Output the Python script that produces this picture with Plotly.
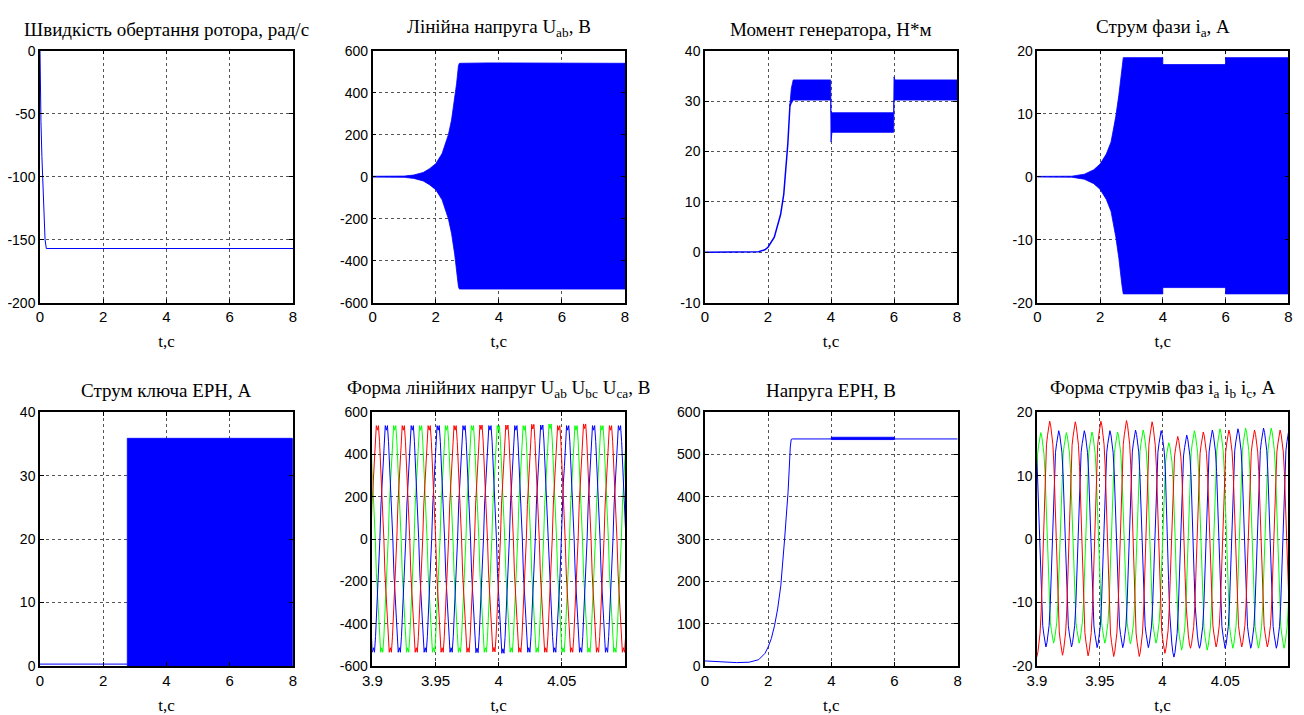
import plotly.graph_objects as go

# the page body adds an 8 px margin, so the figure is drawn 8 px in from the window corner
PAGE_OFF = 8
W, H = 1304 - 2 * PAGE_OFF, 715 - PAGE_OFF

# ---------------- data ----------------
# 1. rotor speed, rad/s
speed_t = [0, 0.01, 0.03, 0.06, 0.09, 0.12, 0.16, 0.20, 8.0]
speed_w = [0, -28, -56, -84, -110, -130, -150, -157, -157]

# 2. line voltage Uab envelope, V
uab_up_t = [0, 1.0, 1.3, 1.6, 1.8, 2.0, 2.2, 2.4, 2.5, 2.6, 2.66, 2.72, 2.75, 3.7, 5.5, 8.0]
uab_up_v = [2, 3, 8, 20, 38, 62, 110, 200, 270, 370, 443, 530, 540, 542, 540, 540]
uab_lo_t = [0, 1.0, 1.3, 1.6, 1.8, 2.0, 2.2, 2.4, 2.5, 2.6, 2.66, 2.72, 2.75, 8.0]
uab_lo_v = [-2, -3, -8, -20, -38, -62, -110, -200, -270, -370, -440, -525, -535, -535]

# 3. generator torque, N*m
tq_t = [0, 1.0, 1.7, 1.9, 2.0, 2.2, 2.4, 2.5, 2.55, 2.63, 2.70]
tq_m = [0, 0, 0.1, 0.5, 1.0, 3.0, 7.5, 11.5, 15.6, 21.6, 29.5]
tq_up_t = [2.70, 2.74, 2.80, 3.99, 4.00, 5.99, 6.00, 6.03, 8.0]
tq_up_m = [29.5, 32.5, 34.2, 34.2, 27.7, 27.7, 34.8, 34.2, 34.2]
tq_lo_t = [2.70, 2.74, 2.80, 3.99, 4.00, 4.03, 5.99, 6.00, 8.0]
tq_lo_m = [29.0, 29.5, 30.2, 30.2, 21.9, 23.8, 23.8, 30.2, 30.2]

# 4. phase current ia envelope, A
ia_up_t = [0, 1.1, 1.5, 1.8, 2.0, 2.2, 2.35, 2.5, 2.6, 2.7, 2.74, 4.0, 4.0, 6.0, 6.0, 8.0]
ia_up_a = [0.05, 0.08, 0.4, 1.1, 2.0, 3.6, 5.5, 9.5, 13.0, 17.5, 18.9, 18.9, 17.8, 17.8, 18.9, 18.9]
ia_lo_t = [0, 1.1, 1.5, 1.8, 2.0, 2.2, 2.35, 2.5, 2.6, 2.7, 2.74, 4.0, 4.0, 6.0, 6.0, 8.0]
ia_lo_a = [-0.05, -0.08, -0.4, -1.1, -2.0, -3.6, -5.5, -9.5, -13.0, -17.3, -18.6, -18.6, -17.6, -17.6, -18.6, -18.6]

# 5. EPH switch current, A
key_idle_t = [0, 2.76]
key_idle_i = [0.3, 0.3]
key_on_t = [2.76, 7.98]
key_on_i = [35.9, 0.0]

# 7. EPH voltage, V
eph_t = [0, 0.2, 0.6, 1.0, 1.4, 1.7, 1.9, 2.0, 2.1, 2.2, 2.3, 2.4, 2.52, 2.63, 2.70, 2.73, 2.76, 4.0, 6.0, 8.0]
eph_v = [12, 11, 9, 8, 9, 15, 30, 45, 65, 95, 135, 190, 300, 412, 518, 536, 537, 537, 537, 537]
eph_band_t = [4.0, 6.0]
eph_band_v = [535.5, 541.0]

# 6. line-voltage waveforms 3.9..4.1 s : period, first rising zero, half-wave shape, per-cycle peaks
u_period = 0.0205
u_half_shape = [0, 0.30, 0.50, 0.64, 0.86, 1.0, 0.96, 1.0, 0.86, 0.64, 0.50, 0.30]
u_red_z0, u_blue_z0, u_green_z0 = 3.8784, 3.8855, 3.8921
u_red_pos = [537, 537, 537, 537, 537, 540, 540, 543, 537, 545, 537]
u_red_neg = [-535, -535, -535, -535, -535, -533, -535, -535, -535, -535, -535]
u_blue_pos = [537, 537, 537, 537, 537, 537, 537, 540, 537, 537, 537]
u_blue_neg = [-535, -535, -535, -535, -537, -540, -535, -535, -535, -535, -535]
u_green_pos = [537, 537, 537, 537, 537, 537, 537, 545, 537, 537, 537]
u_green_neg = [-535, -535, -535, -535, -535, -535, -535, -535, -535, -535, -535]

# 8. phase-current waveforms 3.9..4.1 s
i_period = 0.0204
i_half_shape = [0, 0.35, 0.62, 0.80, 0.88, 0.96, 1.0, 0.96, 0.88, 0.80, 0.62, 0.35]
i_red_z0, i_blue_z0, i_green_z0 = 3.8846, 3.8918, 3.8775
i_red_pos = [18.6, 18.6, 18.5, 18.6, 18.7, 18.5, 16.2, 16.9, 17.2, 17.2, 17.2]
i_red_neg = [-18.5, -18.3, -18.4, -18.5, -18.5, -18.0, -17.2, -17.0, -17.0, -17.0, -17.0]
i_blue_pos = [17.1, 17.1, 17.1, 17.1, 17.2, 17.1, 16.4, 17.2, 17.4, 17.5, 17.5]
i_blue_neg = [-17.0, -17.0, -17.1, -17.1, -17.1, -18.6, -17.2, -17.2, -17.2, -17.2, -17.2]
i_green_pos = [16.8, 16.8, 16.8, 16.9, 16.9, 17.2, 15.2, 17.1, 17.4, 17.5, 17.5, 17.5]
i_green_neg = [-16.4, -16.4, -16.4, -16.4, -16.5, -16.4, -17.5, -17.5, -17.2, -17.2, -17.2, -17.2]

titles = [
    "Швидкість обертання ротора, рад/с",
    "Лінійна напруга U<sub>ab</sub>, В",
    "Момент генератора, Н*м",
    "Струм фази i<sub>a</sub>, А",
    "Струм ключа ЕРН, А",
    "Форма лінійних напруг U<sub>ab</sub> U<sub>bc</sub> U<sub>ca</sub>, В",
    "Напруга ЕРН, В",
    "Форма струмів фаз i<sub>a</sub> i<sub>b</sub> i<sub>c</sub>, А",
]
x_label = "t,c"
zoom_ticks = [3.9, 3.95, 4.0, 4.05]
zoom_ticktext = ["3.9", "3.95", "4", "4.05"]
full_ticks = [0, 2, 4, 6, 8]
y_ticks = [
    [-200, -150, -100, -50, 0],
    [-600, -400, -200, 0, 200, 400, 600],
    [-10, 0, 10, 20, 30, 40],
    [-20, -10, 0, 10, 20],
    [0, 10, 20, 30, 40],
    [-600, -400, -200, 0, 200, 400, 600],
    [0, 100, 200, 300, 400, 500, 600],
    [-20, -10, 0, 10, 20],
]

# ---------------- helpers ----------------
BLUE, RED, GREEN = "#0000FF", "#FF0000", "#00FF00"


def wave(z0, period, half, pos, neg):
    t, y = [], []
    n_half = len(half)
    for n in range(len(pos)):
        for k, h in enumerate(half):
            t.append(z0 + n * period + k * period / (2 * n_half))
            y.append(h * pos[n])
        for k, h in enumerate(half):
            t.append(z0 + n * period + period / 2 + k * period / (2 * n_half))
            y.append(h * neg[n])
    t.append(z0 + len(pos) * period)
    y.append(0)
    return t, y


def band(up_t, up_v, lo_t, lo_v):
    return list(up_t) + list(reversed(lo_t)) + [up_t[0]], list(up_v) + list(reversed(lo_v)) + [up_v[0]]


def fmt(v):
    return f"{v:g}"


fig = go.Figure()


def ax(i):
    return ("x" if i == 1 else f"x{i}"), ("y" if i == 1 else f"y{i}")


def line(i, x, y, color=BLUE, width=1):
    xa, ya = ax(i)
    fig.add_trace(go.Scatter(x=x, y=y, mode="lines", line=dict(color=color, width=width),
                             xaxis=xa, yaxis=ya, showlegend=False, hoverinfo="skip"))


def fill(i, x, y, color=BLUE):
    xa, ya = ax(i)
    fig.add_trace(go.Scatter(x=x, y=y, mode="lines", fill="toself", fillcolor=color,
                             line=dict(color=color, width=0.8),
                             xaxis=xa, yaxis=ya, showlegend=False, hoverinfo="skip"))


# panel 1
line(1, speed_t, speed_w)
# panel 2
bx, by = band(uab_up_t, uab_up_v, uab_lo_t, uab_lo_v)
fill(2, bx, by)
# panel 3
line(3, tq_t, tq_m, width=1.5)
bx, by = band(tq_up_t, tq_up_m, tq_lo_t, tq_lo_m)
fill(3, bx, by)
# panel 4
bx, by = band(ia_up_t, ia_up_a, ia_lo_t, ia_lo_a)
fill(4, bx, by)
# panel 5
line(5, key_idle_t, key_idle_i)
fill(5, [key_on_t[0], key_on_t[0], key_on_t[1], key_on_t[1], key_on_t[0]],
     [key_on_i[1], key_on_i[0], key_on_i[0], key_on_i[1], key_on_i[1]])
# panel 6
for z0, pos, neg, c in [(u_green_z0, u_green_pos, u_green_neg, GREEN),
                        (u_blue_z0, u_blue_pos, u_blue_neg, BLUE),
                        (u_red_z0, u_red_pos, u_red_neg, RED)]:
    tx, ty = wave(z0, u_period, u_half_shape, pos, neg)
    line(6, tx, ty, color=c)
# panel 7
line(7, eph_t, eph_v)
fill(7, [eph_band_t[0], eph_band_t[1], eph_band_t[1], eph_band_t[0], eph_band_t[0]],
     [eph_band_v[0], eph_band_v[0], eph_band_v[1], eph_band_v[1], eph_band_v[0]])
# panel 8
for z0, pos, neg, c in [(i_green_z0, i_green_pos, i_green_neg, GREEN),
                        (i_blue_z0, i_blue_pos, i_blue_neg, BLUE),
                        (i_red_z0, i_red_pos, i_red_neg, RED)]:
    tx, ty = wave(z0, i_period, i_half_shape, pos, neg)
    line(8, tx, ty, color=c)

# ---------------- layout ----------------
# plot-area boxes in window pixels
x_px = [(40, 293), (372.7, 625), (705, 957), (1037.3, 1288.3),
        (40, 293), (372.3, 625), (705, 957.7), (1037, 1288)]
y_px = [(50.7, 302.7)] * 4 + [(412.3, 666)] * 4

y_ranges = [[-200, 0], [-600, 600], [-10, 40], [-20, 20], [0, 40], [-600, 600], [0, 600], [-20, 20]]

SANS = "Liberation Sans, Arial, sans-serif"
SERIF = "Liberation Serif, Times New Roman, serif"

common = dict(showgrid=True, gridcolor="#555555", griddash="dot", gridwidth=1,
              showline=True, linecolor="black", linewidth=1.5, mirror="ticks",
              ticks="inside", ticklen=4, tickcolor="black", zeroline=False,
              automargin=False, tickmode="array")


def fx(px):
    return (px - PAGE_OFF) / W


def fy(px):
    return 1 - (px - PAGE_OFF) / H


layout = dict(width=W, height=H, autosize=False,
              margin=dict(l=0, r=0, t=0, b=0, pad=0, autoexpand=False),
              paper_bgcolor="white", plot_bgcolor="white", showlegend=False)
annotations = []
for i in range(8):
    xs = "" if i == 0 else str(i + 1)
    x0, x1 = x_px[i]
    y0, y1 = y_px[i]
    xa = dict(common, domain=[fx(x0), fx(x1)], anchor="y" + xs,
              tickfont=dict(family=SANS, size=15, color="black"),
              title=dict(text=x_label, font=dict(family=SERIF, size=17, color="black"), standoff=11))
    if i in (5, 7):
        xa.update(range=[3.9, 4.1], tickvals=zoom_ticks, ticktext=zoom_ticktext)
    else:
        xa.update(range=[0, 8], tickvals=full_ticks, ticktext=[fmt(v) for v in full_ticks])
    ya = dict(common, domain=[fy(y1), fy(y0)], anchor="x" + xs,
              tickfont=dict(family=SANS, size=14, color="black"),
              range=y_ranges[i], tickvals=y_ticks[i], ticktext=[fmt(v) for v in y_ticks[i]])
    layout["xaxis" + xs] = xa
    layout["yaxis" + xs] = ya
    annotations.append(dict(text=titles[i], xref="paper", yref="paper",
                            x=fx((x0 + x1) / 2), y=fy(y0 - 9),
                            xanchor="center", yanchor="bottom", showarrow=False,
                            font=dict(family=SERIF, size=19, color="black")))
layout["annotations"] = annotations
fig.update_layout(**layout)

fig.write_html("out.html")
